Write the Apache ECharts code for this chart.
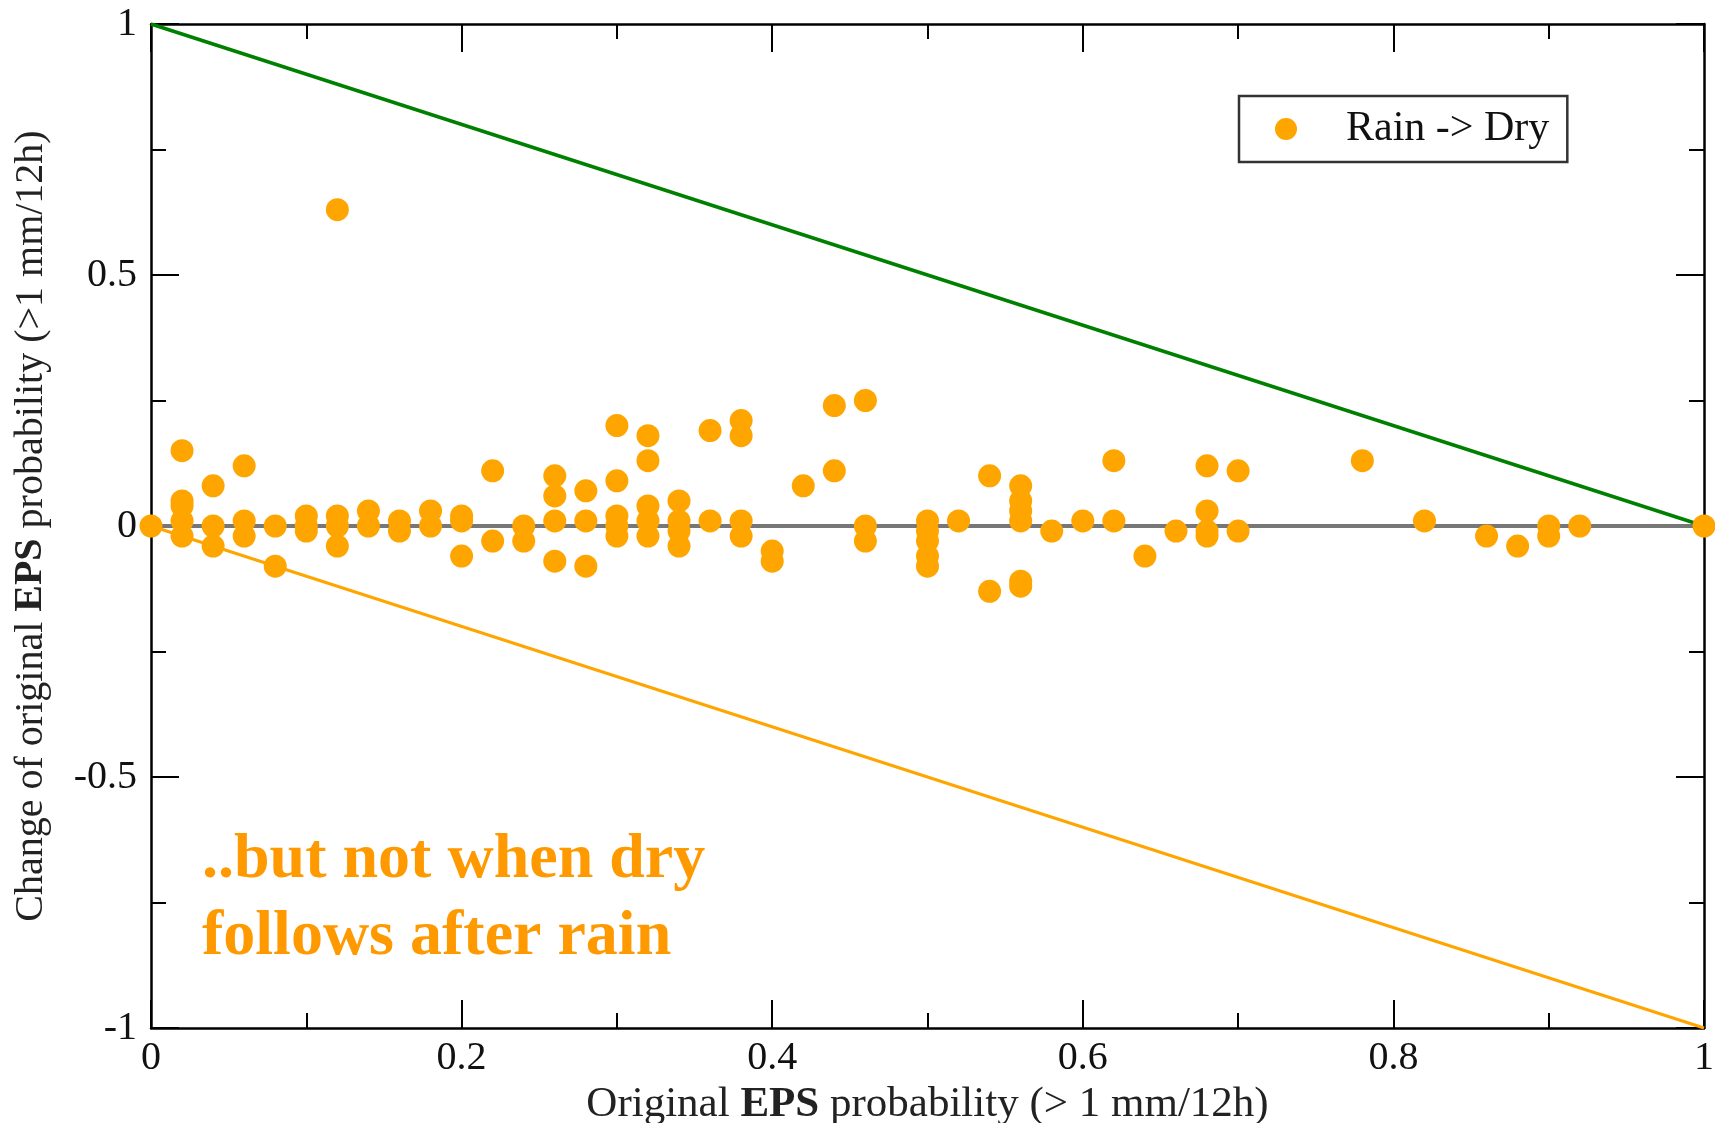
<!DOCTYPE html>
<html lang="en">

<head>
    <meta charset="UTF-8">
    <title>Rain -> Dry</title>
    <script src="https://cdn.jsdelivr.net/npm/echarts@6/dist/echarts.min.js"></script>
    <style>
        html, body { margin: 0; padding: 0; background: #fff; }
        #main { width: 1715px; height: 1123px; }
    </style>
</head>

<body>
    <div id="main"></div>

    <script>
        // original EPS probability (x) and change of that probability (y)
        var origProb = [
            0,
            0.02, 0.02, 0.02, 0.02, 0.02,
            0.04, 0.04, 0.04,
            0.06, 0.06, 0.06,
            0.08, 0.08,
            0.10, 0.10, 0.10,
            0.12, 0.12, 0.12, 0.12,
            0.14, 0.14,
            0.16, 0.16,
            0.18, 0.18,
            0.20, 0.20, 0.20,
            0.22, 0.22,
            0.24, 0.24,
            0.26, 0.26, 0.26, 0.26,
            0.28, 0.28, 0.28,
            0.30, 0.30, 0.30, 0.30, 0.30,
            0.32, 0.32, 0.32, 0.32, 0.32,
            0.34, 0.34, 0.34, 0.34,
            0.36, 0.36,
            0.38, 0.38, 0.38, 0.38,
            0.40, 0.40,
            0.42,
            0.44, 0.44,
            0.46, 0.46, 0.46,
            0.50, 0.50, 0.50, 0.50, 0.50,
            0.52,
            0.54, 0.54,
            0.56, 0.56, 0.56, 0.56, 0.56, 0.56,
            0.58,
            0.60,
            0.62, 0.62,
            0.64,
            0.66,
            0.68, 0.68, 0.68, 0.68,
            0.70, 0.70,
            0.78,
            0.82,
            0.86,
            0.88,
            0.90, 0.90,
            0.92,
            1.0
        ]
        var probChange = [
            0,
            0.15, 0.05, 0.04, 0.01, -0.02,
            0.08, 0, -0.04,
            0.12, 0.01, -0.02,
            0, -0.08,
            0.02, 0, -0.01,
            0.63, 0.02, 0, -0.04,
            0.03, 0,
            0.01, -0.01,
            0.03, 0,
            0.02, 0.01, -0.06,
            0.11, -0.03,
            0, -0.03,
            0.10, 0.06, 0.01, -0.07,
            0.07, 0.01, -0.08,
            0.20, 0.09, 0.02, 0, -0.02,
            0.18, 0.13, 0.04, 0.01, -0.02,
            0.05, 0.01, -0.01, -0.04,
            0.19, 0.01,
            0.21, 0.18, 0.01, -0.02,
            -0.05, -0.07,
            0.08,
            0.24, 0.11,
            0.25, 0, -0.03,
            0.01, -0.01, -0.03, -0.06, -0.08,
            0.01,
            0.10, -0.13,
            0.08, 0.05, 0.03, 0.01, -0.11, -0.12,
            -0.01,
            0.01,
            0.13, 0.01,
            -0.06,
            -0.01,
            0.12, 0.03, -0.01, -0.02,
            0.11, -0.01,
            0.13,
            0.01,
            -0.02,
            -0.04,
            0, -0.02,
            0,
            0
        ]
        // reference lines
        var upperLimit = [[0, 1], [1, 0]]
        var lowerLimit = [[0, 0], [1, -1]]
        var zeroLine = [[0, 0], [1, 0]]

        var seriesName = 'Rain -> Dry'
        var xTicks = { min: 0, max: 1, interval: 0.2 }
        var yTicks = { min: -1, max: 1, interval: 0.5 }

        var points = origProb.map(function (x, i) { return [x, probChange[i]] })

        var serif = 'Liberation Serif'
        var tickStyle = { show: true, inside: true, length: 28, lineStyle: { color: '#000', width: 2 } }
        var minorStyle = { show: true, splitNumber: 2, length: 15, lineStyle: { color: '#000', width: 2 } }
        var lineStyle = { show: true, onZero: false, lineStyle: { color: '#000', width: 2.5 } }

        var mCharts = echarts.init(document.getElementById('main'))
        var option = {
            backgroundColor: '#fff',
            animation: false,
            grid: { left: 151, right: 11, top: 24, bottom: 95, containLabel: false, outerBoundsMode: 'none' },
            legend: {
                data: [{ name: seriesName, icon: 'circle' }],
                left: 1239,
                top: 96,
                orient: 'vertical',
                padding: [12, 18, 12, 36],
                itemWidth: 22,
                itemHeight: 22,
                borderColor: '#333',
                borderWidth: 2.5,
                backgroundColor: '#fff',
                textStyle: { fontFamily: serif, fontSize: 42, color: '#111', padding: [0, 0, 0, 44] }
            },
            xAxis: [{
                type: 'value',
                min: xTicks.min, max: xTicks.max, interval: xTicks.interval,
                name: '{n|Original }{b|EPS}{n| probability (> 1 mm/12h)}',
                nameLocation: 'middle',
                nameGap: 54,
                nameTextStyle: {
                    rich: {
                        n: { fontFamily: serif, fontSize: 43, color: '#222' },
                        b: { fontFamily: serif, fontSize: 43, fontWeight: 'bold', color: '#222' }
                    }
                },
                axisLine: lineStyle,
                axisTick: tickStyle,
                minorTick: minorStyle,
                splitLine: { show: false },
                axisLabel: { fontFamily: serif, fontSize: 40, color: '#111', margin: 10 }
            }, {
                type: 'value', position: 'top',
                min: xTicks.min, max: xTicks.max, interval: xTicks.interval,
                axisLine: lineStyle,
                axisTick: tickStyle,
                minorTick: minorStyle,
                splitLine: { show: false },
                axisLabel: { show: false }
            }],
            yAxis: [{
                type: 'value',
                min: yTicks.min, max: yTicks.max, interval: yTicks.interval,
                name: '{n|Change of original }{b|EPS}{n| probability (>1 mm/12h)}',
                nameLocation: 'middle',
                nameGap: 100,
                nameTextStyle: {
                    rich: {
                        n: { fontFamily: serif, fontSize: 40, color: '#222' },
                        b: { fontFamily: serif, fontSize: 40, fontWeight: 'bold', color: '#222' }
                    }
                },
                axisLine: lineStyle,
                axisTick: tickStyle,
                minorTick: minorStyle,
                splitLine: { show: false },
                axisLabel: { fontFamily: serif, fontSize: 40, color: '#111', margin: 14 }
            }, {
                type: 'value', position: 'right',
                min: yTicks.min, max: yTicks.max, interval: yTicks.interval,
                axisLine: lineStyle,
                axisTick: tickStyle,
                minorTick: minorStyle,
                splitLine: { show: false },
                axisLabel: { show: false }
            }],
            graphic: [{
                type: 'text',
                left: 202,
                top: 822,
                style: {
                    text: '..but not when dry\nfollows after rain',
                    fontFamily: serif,
                    fontWeight: 'bold',
                    fontSize: 64,
                    lineHeight: 77,
                    fill: '#FF9900'
                }
            }],
            series: [
                {
                    type: 'line', data: zeroLine, symbol: 'none', silent: true,
                    lineStyle: { color: '#777', width: 4 }, z: 1
                },
                {
                    type: 'line', data: upperLimit, symbol: 'none', silent: true,
                    lineStyle: { color: '#008000', width: 3.5 }, z: 1
                },
                {
                    type: 'line', data: lowerLimit, symbol: 'none', silent: true,
                    lineStyle: { color: '#FFA500', width: 3 }, z: 1
                },
                {
                    name: seriesName,
                    type: 'scatter',
                    data: points,
                    symbol: 'circle',
                    symbolSize: 23,
                    clip: false,
                    itemStyle: { color: '#FFA500', opacity: 1 },
                    z: 3
                }
            ]
        }
        mCharts.setOption(option)
    </script>
</body>

</html>
